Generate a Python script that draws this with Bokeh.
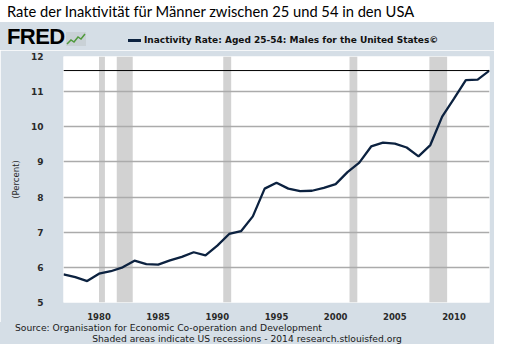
from bokeh.plotting import figure
from bokeh.models import Span, BoxAnnotation, FixedTicker, Div
from bokeh.layouts import column
from bokeh.embed import file_html
from bokeh.resources import INLINE

# ---- data ----
years = list(range(1977, 2014))
rate = [5.80, 5.72, 5.61, 5.82, 5.89, 6.00, 6.19, 6.09, 6.08, 6.20,
        6.30, 6.43, 6.34, 6.62, 6.95, 7.03, 7.45, 8.24, 8.41, 8.24,
        8.17, 8.18, 8.26, 8.37, 8.71, 8.98, 9.44, 9.55, 9.52, 9.41,
        9.16, 9.48, 10.29, 10.80, 11.33, 11.34, 11.60]
rec_start = [1980.0, 1981.5, 1990.5, 2001.17, 2007.92]
rec_end = [1980.5, 1982.85, 1991.17, 2001.83, 2009.42]
x_ticks = [1980, 1985, 1990, 1995, 2000, 2005, 2010]
y_ticks = [5, 6, 7, 8, 9, 10, 11, 12]

title_text = "Rate der Inaktivität für Männer zwischen 25 und 54 in den USA"
series_name = "Inactivity Rate: Aged 25-54: Males for the United States©"
source_text = "Source: Organisation for Economic Co-operation and Development"
note_text = "Shaded areas indicate US recessions - 2014 research.stlouisfed.org"

BG = "#d5dee6"
LINE = "#0c2240"
W = 494

# ---- header: headline on white, FRED logo + legend on grey ----
header_html = f"""
<div style="position:relative;width:{W}px;height:50px;background:{BG};overflow:hidden;">
  <div style="position:absolute;left:0;top:0;width:{W}px;height:22px;background:#ffffff;"></div>
  <div style="position:absolute;left:7px;top:0;line-height:22px;font-family:Lato;font-size:14.7px;color:#000;white-space:nowrap;">{title_text}</div>
  <div style="position:absolute;left:7px;top:26px;line-height:22px;font-family:'Liberation Sans';font-weight:bold;font-size:22px;color:#000;letter-spacing:-0.6px;">FRED</div>
  <svg style="position:absolute;left:66px;top:32px;" width="20" height="14">
    <rect x="0" y="0" width="20" height="14" fill="#c9d1d6"/>
    <polyline points="1,12 5,8 8,10 12,5 15,7 19,2" fill="none" stroke="#4f9a3c" stroke-width="1.5"/>
  </svg>
  <div style="position:absolute;left:128px;top:39px;width:13px;height:2.5px;background:{LINE};"></div>
  <div style="position:absolute;left:144px;top:34px;line-height:12px;font-family:'DejaVu Sans';font-weight:bold;font-size:9px;color:#111111;white-space:nowrap;">{series_name}</div>
</div>
"""
header = Div(text=header_html, width=W, height=50, margin=0)

# ---- main chart ----
p = figure(width=W, height=272, output_backend="svg", toolbar_location=None, title=None,
           x_range=(years[0], years[-1]), y_range=(y_ticks[0], y_ticks[-1]),
           min_border_left=63, min_border_right=5, min_border_top=6, min_border_bottom=14)
p.border_fill_color = BG
p.background_fill_color = "white"
p.outline_line_color = None

boxes = [BoxAnnotation(left=s, right=e, fill_color="#d2d2d2", fill_alpha=1.0,
                       line_color=None, level="underlay")
         for s, e in zip(rec_start, rec_end)]

p.line(years, rate, line_color=LINE, line_width=2.3)
p.add_layout(Span(location=rate[-1], dimension="width", line_color="black", line_width=1))

for ax in (p.xaxis[0], p.yaxis[0]):
    ax.axis_line_color = None
    ax.major_tick_line_color = None
    ax.minor_tick_line_color = None
    ax.major_label_text_font = "DejaVu Sans"
    ax.major_label_text_font_style = "bold"
    ax.major_label_text_color = "#2a2a2a"
p.xaxis.ticker = FixedTicker(ticks=x_ticks)
p.yaxis.ticker = FixedTicker(ticks=y_ticks)
p.xaxis.major_label_text_font_size = "8.5px"
p.yaxis.major_label_text_font_size = "9px"
p.xaxis.major_label_standoff = 4
p.yaxis.major_label_standoff = 14
p.yaxis.axis_label = "(Percent)"
p.yaxis.axis_label_text_font = "DejaVu Sans"
p.yaxis.axis_label_text_font_style = "normal"
p.yaxis.axis_label_text_font_size = "8.5px"
p.yaxis.axis_label_text_color = "#2a2a2a"
p.yaxis.axis_label_standoff = 7

p.xgrid.grid_line_color = None
p.ygrid.grid_line_color = "#ababab"
p.ygrid.grid_line_width = 1.5
p.center = boxes + list(p.center)

# ---- footer ----
footer_html = f"""
<div style="position:relative;width:{W}px;height:22px;background:{BG};font-family:'DejaVu Sans';font-size:9.2px;color:#1a1a1a;white-space:nowrap;overflow:hidden;">
  <div style="position:absolute;left:15px;top:0;line-height:11px;">{source_text}</div>
  <div style="position:absolute;left:0;top:11px;width:{W}px;line-height:11px;text-align:center;">{note_text}</div>
</div>
"""
footer = Div(text=footer_html, width=W, height=22, margin=0)

layout = column(header, p, footer, spacing=0)
open("out.html", "w").write(file_html(layout, INLINE))
